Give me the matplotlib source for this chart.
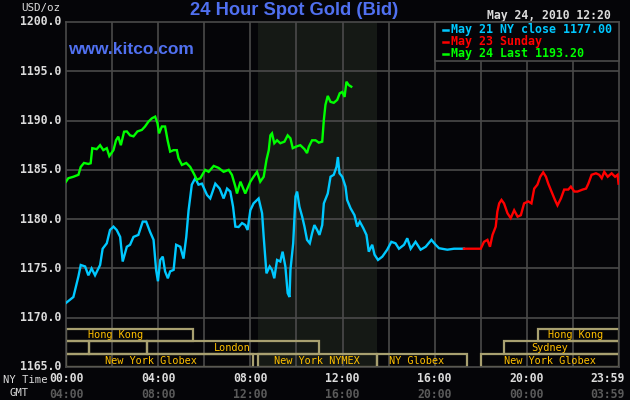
import matplotlib
matplotlib.use("Agg")
import matplotlib.pyplot as plt
from matplotlib.patches import Rectangle
from matplotlib.lines import Line2D
from matplotlib.transforms import blended_transform_factory, offset_copy

# ---------------- data ----------------
blue_h = [0.0, 0.32, 0.54, 0.64, 0.83, 0.97, 1.11, 1.26, 1.48, 1.59, 1.77, 1.91, 2.06, 2.2, 2.35, 2.46,
          2.64, 2.78, 2.93, 3.14, 3.33, 3.48, 3.65, 3.8, 3.91, 3.99, 4.09, 4.2, 4.3, 4.42, 4.52, 4.67,
          4.78, 4.96, 5.1, 5.22, 5.32, 5.46, 5.61, 5.75, 5.9, 6.12, 6.26, 6.48, 6.67, 6.84, 6.99, 7.13,
          7.25, 7.35, 7.49, 7.64, 7.78, 7.88, 8.0, 8.14, 8.36, 8.51, 8.58, 8.7, 8.84, 8.94, 9.04, 9.16,
          9.3, 9.4, 9.52, 9.62, 9.7, 9.74, 9.86, 9.96, 10.03, 10.13, 10.25, 10.35, 10.46, 10.58, 10.68,
          10.78, 10.9, 11.0, 11.12, 11.19, 11.36, 11.48, 11.62, 11.74, 11.8, 11.87, 11.99, 12.13, 12.2,
          12.35, 12.52, 12.64, 12.75, 12.9, 13.04, 13.14, 13.29, 13.39, 13.54, 13.73, 13.94, 14.12, 14.3,
          14.45, 14.67, 14.81, 14.96, 15.17, 15.39, 15.61, 15.86, 16.04, 16.19, 16.55, 16.84, 17.27]
blue_p = [1171.5, 1172.1, 1174.2, 1175.35, 1175.2, 1174.3, 1175.0, 1174.3, 1175.35, 1177.0, 1177.55,
          1178.9, 1179.24, 1178.9, 1178.2, 1175.7, 1177.2, 1177.4, 1178.2, 1178.4, 1179.75, 1179.75,
          1178.7, 1177.9, 1174.85, 1173.7, 1175.86, 1176.2, 1174.7, 1174.0, 1174.7, 1174.85, 1177.4,
          1177.2, 1176.0, 1178.2, 1180.9, 1183.5, 1184.15, 1183.5, 1183.6, 1182.45, 1182.1, 1183.6,
          1183.1, 1182.1, 1183.1, 1182.8, 1181.27, 1179.24, 1179.2, 1179.6, 1179.4, 1178.9, 1180.9,
          1181.6, 1182.1, 1180.6, 1178.2, 1174.5, 1175.2, 1174.85, 1174.0, 1175.86, 1175.7, 1176.7,
          1175.2, 1172.5, 1172.1, 1174.85, 1177.55, 1182.3, 1182.8, 1181.27, 1180.25, 1179.24, 1177.9,
          1177.55, 1178.57, 1179.4, 1178.9, 1178.4, 1179.4, 1181.6, 1182.6, 1184.3, 1184.5, 1185.3,
          1186.3, 1184.65, 1184.3, 1183.3, 1181.95, 1181.1, 1180.4, 1179.24, 1179.75, 1179.1, 1178.4,
          1176.7, 1177.4, 1176.4, 1175.86, 1176.2, 1176.9, 1177.7, 1177.55, 1177.0, 1177.4, 1178.06,
          1177.0, 1177.7, 1176.9, 1177.2, 1177.9, 1177.4, 1177.05, 1176.9, 1177.0, 1177.0]

red_h = [17.27, 18.0, 18.14, 18.29, 18.4, 18.51, 18.65, 18.72, 18.8, 18.9, 19.01, 19.16, 19.3, 19.45,
         19.6, 19.74, 19.88, 20.06, 20.2, 20.32, 20.46, 20.58, 20.71, 20.83, 20.93, 21.07, 21.22, 21.33,
         21.48, 21.62, 21.8, 21.91, 22.06, 22.2, 22.42, 22.57, 22.67, 22.81, 23.0, 23.14, 23.25, 23.36,
         23.51, 23.68, 23.83, 23.94, 23.98]
red_p = [1177.0, 1177.0, 1177.7, 1177.9, 1177.2, 1178.4, 1179.24, 1180.76, 1181.6, 1181.95, 1181.6,
         1180.6, 1180.1, 1180.9, 1180.25, 1180.4, 1181.6, 1181.8, 1181.6, 1183.1, 1183.5, 1184.3,
         1184.75, 1184.3, 1183.6, 1182.8, 1181.95, 1181.4, 1182.1, 1183.0, 1183.0, 1183.3, 1182.8,
         1182.8, 1183.0, 1183.1, 1183.6, 1184.5, 1184.65, 1184.5, 1184.15, 1184.8, 1184.3, 1184.65,
         1184.3, 1184.5, 1183.6]

green_h = [0.0, 0.1, 0.32, 0.54, 0.64, 0.78, 0.97, 1.07, 1.14, 1.33, 1.48, 1.62, 1.77, 1.88, 2.06, 2.17,
           2.27, 2.38, 2.52, 2.64, 2.78, 2.93, 3.1, 3.29, 3.43, 3.58, 3.73, 3.87, 3.97, 4.04, 4.16, 4.3,
           4.41, 4.52, 4.67, 4.81, 4.88, 5.03, 5.22, 5.39, 5.54, 5.68, 5.83, 6.04, 6.19, 6.41, 6.62, 6.84,
           7.06, 7.2, 7.35, 7.42, 7.57, 7.78, 8.0, 8.14, 8.29, 8.43, 8.58, 8.7, 8.8, 8.87, 8.94, 9.04,
           9.16, 9.3, 9.48, 9.62, 9.74, 9.84, 10.03, 10.17, 10.35, 10.46, 10.54, 10.68, 10.83, 10.97,
           11.12, 11.19, 11.26, 11.36, 11.48, 11.62, 11.77, 11.88, 11.99, 12.09, 12.17, 12.27, 12.38]
green_p = [1183.8, 1184.15, 1184.3, 1184.5, 1185.3, 1185.7, 1185.6, 1185.67, 1187.2, 1187.1, 1187.5,
           1187.0, 1187.2, 1186.4, 1187.0, 1188.0, 1188.37, 1187.5, 1188.87, 1188.9, 1188.5, 1188.4,
           1188.9, 1189.05, 1189.4, 1189.9, 1190.23, 1190.4, 1189.73, 1188.7, 1189.4, 1189.4, 1188.0,
           1186.85, 1187.0, 1187.0, 1186.2, 1185.5, 1185.7, 1185.3, 1184.65, 1184.0, 1184.15, 1185.0,
           1184.8, 1185.4, 1185.2, 1184.8, 1185.0, 1184.5, 1183.3, 1182.6, 1183.8, 1182.6, 1183.8,
           1184.3, 1184.8, 1183.8, 1184.3, 1186.0, 1187.0, 1188.5, 1188.7, 1187.7, 1188.0, 1187.7,
           1187.86, 1188.5, 1188.2, 1187.2, 1187.4, 1187.5, 1187.1, 1186.7, 1187.35, 1188.0, 1188.0,
           1187.76, 1187.86, 1190.06, 1191.6, 1192.5, 1191.9, 1191.8, 1192.1, 1192.77, 1192.9, 1192.4,
           1193.94, 1193.6, 1193.44]

legend_labels = ["May 21 NY close 1177.00", "May 23 Sunday", "May 24 Last 1193.20"]

x_ticks = [0, 4, 8, 12, 16, 20, 24]
ny_labels = ["00:00", "04:00", "08:00", "12:00", "16:00", "20:00", "23:59"]
gmt_labels = ["04:00", "08:00", "12:00", "16:00", "20:00", "00:00", "03:59"]
y_ticks = [1165, 1170, 1175, 1180, 1185, 1190, 1195, 1200]

nymex_session = (8.333, 13.5)

# market sessions
market_labels = ["Hong Kong", "Hong Kong", "", "", "London", "Sydney",
                 "New York Globex", "New York NYMEX", "NY Globex", "New York Globex"]
market_start = [0.0, 20.5, 0.0, 1.0, 3.5, 19.0, 0.0, 8.33, 13.5, 18.0]
market_end = [5.5, 24.0, 1.0, 3.5, 11.0, 24.0, 8.1, 13.5, 17.4, 24.0]
market_row = [2, 2, 1, 1, 1, 1, 0, 0, 0, 0]
market_label_x = [2.13, 22.1, 0.5, 2.25, 7.2, 21.0, 3.67, 10.9, 15.2, 21.0]

# ---------------- style ----------------
BG = "#050508"
GRID = "#4a4a4a"
SHADE = "#151915"
BOX = "#a8a070"
BOXTXT = "#ffc000"
TXT = "#dcdcdc"
GMTC = "#5a5a5a"
BLUE_T = "#5070f0"
C_BLUE = "#00c8ff"
C_RED = "#ff0000"
C_GREEN = "#00ff00"
MONO = "DejaVu Sans Mono"

fig = plt.figure(figsize=(6.3, 4.0), dpi=100, facecolor=BG)
W, H = 630, 400
x0, x1, ytop, ybot = 66, 619, 22, 367
ax = fig.add_axes([x0 / W, (H - ybot) / H, (x1 - x0) / W, (ybot - ytop) / H])
ax.set_facecolor(BG)
ax.set_xlim(0, 24)
ax.set_ylim(1165, 1200)

ax.axvspan(*nymex_session, color=SHADE, zorder=0, lw=0)

for gx in range(2, 24, 2):
    ax.axvline(gx, color=GRID, lw=1.2, zorder=1)
for gy in y_ticks[1:-1]:
    ax.axhline(gy, color=GRID, lw=1.2, zorder=1)
for s in ax.spines.values():
    s.set_color(GRID)
    s.set_linewidth(1.2)

# market session boxes
row_h = 1.3
for lab, s, e, r, lx in zip(market_labels, market_start, market_end, market_row, market_label_x):
    yb = 1165 + r * row_h
    ax.add_patch(Rectangle((s, yb), e - s, row_h, fill=False, edgecolor=BOX, lw=1.6, zorder=2))
    if lab:
        ax.text(lx, yb + row_h / 2, lab, color=BOXTXT, fontsize=7.4, family=MONO,
                ha="center", va="center", zorder=3)

# data lines
ax.plot(blue_h, blue_p, color=C_BLUE, lw=1.7, zorder=4, solid_joinstyle="miter")
ax.plot(red_h, red_p, color=C_RED, lw=1.7, zorder=4, solid_joinstyle="miter")
ax.plot(green_h, green_p, color=C_GREEN, lw=1.7, zorder=4, solid_joinstyle="miter")

# axes ticks (manual)
ax.set_xticks([])
ax.set_yticks([])
for yv in y_ticks:
    ax.text(-0.22, yv, f"{yv:.1f}", color=TXT, fontsize=8.3, family=MONO, weight="bold",
            ha="right", va="center", transform=ax.transData, clip_on=False)

bt = blended_transform_factory(ax.transData, fig.transFigure)
for i, (xt, l1, l2) in enumerate(zip(x_ticks, ny_labels, gmt_labels)):
    if i == len(x_ticks) - 1:
        tr = offset_copy(bt, fig=fig, x=6, y=0, units="dots")
        ha = "right"
    else:
        tr = bt
        ha = "center"
    fig.text(xt, 1 - 378 / H, l1, color=TXT, fontsize=8.3, family=MONO, weight="bold",
             ha=ha, va="center", transform=tr)
    fig.text(xt, 1 - 394 / H, l2, color=GMTC, fontsize=8.3, family=MONO, weight="bold",
             ha=ha, va="center", transform=tr)

fig.text(3 / W, 1 - 380 / H, "NY Time", color=TXT, fontsize=7.6, family=MONO, ha="left", va="center")
fig.text(10 / W, 1 - 393 / H, "GMT", color=TXT, fontsize=7.6, family=MONO, ha="left", va="center")
fig.text(21 / W, 1 - 8 / H, "USD/oz", color=TXT, fontsize=7.8, family=MONO, ha="left", va="center")

# title, site, date
fig.text(294 / W, 1 - 10.5 / H, "24 Hour Spot Gold (Bid)", color=BLUE_T, fontsize=13.2,
         family="Liberation Sans", weight="bold", ha="center", va="center")
fig.text(68 / W, 1 - 49 / H, "www.kitco.com", color=BLUE_T, fontsize=12.5,
         family="Liberation Sans", weight="bold", ha="left", va="center")
fig.text(611 / W, 1 - 15 / H, "May 24, 2010 12:20", color=TXT, fontsize=8.3, family=MONO,
         weight="bold", ha="right", va="center")

# legend box
lx0, lx1, ly0, ly1 = 435, 619, 22, 61
fig.add_artist(Rectangle((lx0 / W, 1 - ly1 / H), (lx1 - lx0) / W, (ly1 - ly0) / H,
                         transform=fig.transFigure, facecolor=BG, edgecolor=GRID, lw=1.2, zorder=5))
for i, (lab, c) in enumerate(zip(legend_labels, [C_BLUE, C_RED, C_GREEN])):
    ypx = 29.5 + 12 * i
    yy = 1 - ypx / H
    fig.add_artist(Line2D([443 / W, 448 / W], [yy, yy], transform=fig.transFigure,
                          color=c, lw=1.8, zorder=6))
    fig.text(451 / W, yy, lab, color=c, fontsize=8.4, family=MONO, weight="bold",
             ha="left", va="center", zorder=6)

fig.savefig("out.png", dpi=100, facecolor=BG)
